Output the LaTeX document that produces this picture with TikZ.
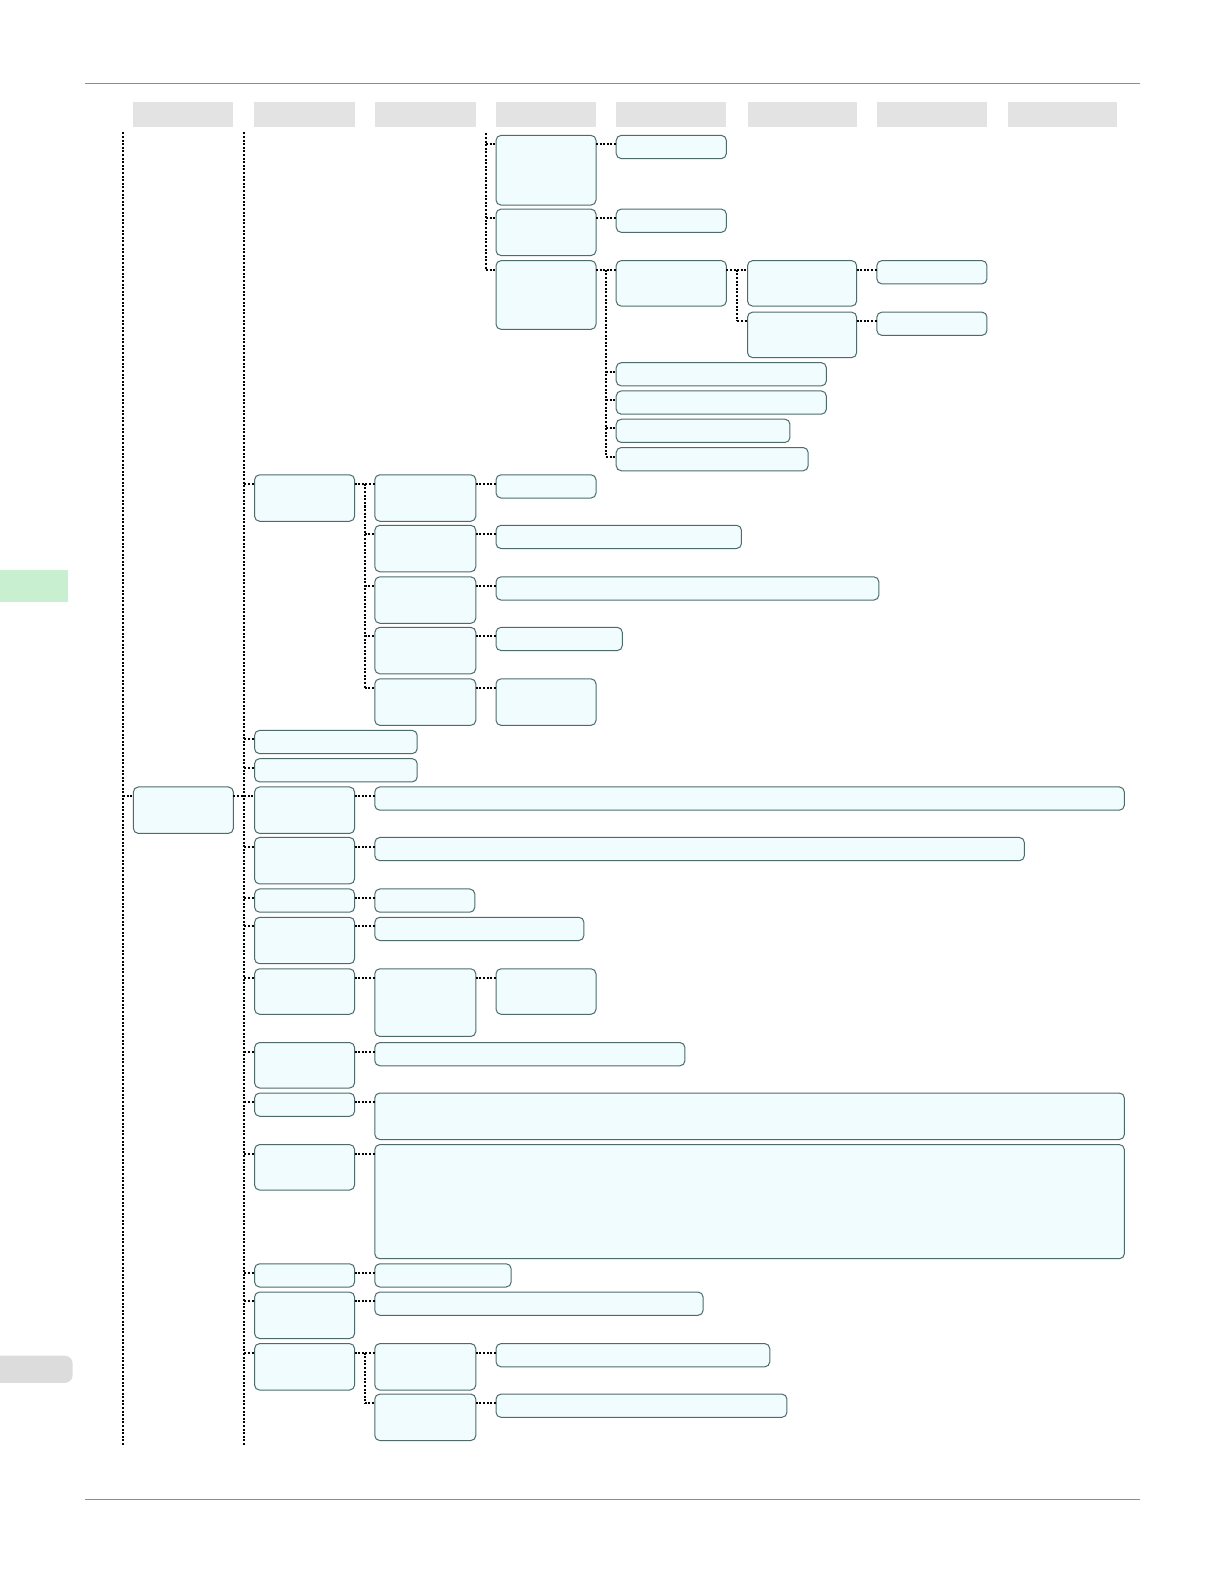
\documentclass[tikz,border=0pt]{standalone}
\usetikzlibrary{calc}
\definecolor{boxfill}{HTML}{F0FCFE}
\definecolor{boxdraw}{HTML}{4D6B6B}
\definecolor{hdr}{HTML}{E3E3E3}
\definecolor{tabgreen}{HTML}{C8EFD0}
\definecolor{tabgray}{HTML}{DCDCDC}
\definecolor{rulegray}{HTML}{8C8C8C}
\tikzset{
  bx/.style={draw=boxdraw, fill=boxfill, line width=0.5pt, rounded corners=2.5pt, inner sep=0pt, outer sep=0pt, anchor=north west},
  hd/.style={fill=hdr, draw=none, inner sep=0pt, outer sep=0pt, anchor=north west},
  conn/.style={black, line width=1pt, dash pattern=on 1pt off 0.8pt},
}
\newcommand{\bxx}[5]{\node[bx, minimum width={(#4-#2)*0.505pt}, minimum height={(#5-#3)*0.505pt}] (#1) at (#2,#3) {};}
\newcommand{\hdx}[3]{\node[hd, minimum width={(#3-#2)*0.505pt}, minimum height={25*0.505pt}] (#1) at (#2,101) {};}
\newcommand{\lk}[2]{\draw[conn] ($(#1.north east)+(0,9)$) -- ($(#2.north west)+(0,9)$);}
\newcommand{\stub}[1]{\draw[conn] ($(#1.north west)+(-10,9)$) -- ($(#1.north west)+(0,9)$);}
\newcommand{\trunk}[2]{\draw[conn] ($(#1.north west)+(-10,9)$) -- ($(#2.north west)+(-10,9)$);}
\begin{document}
\begin{tikzpicture}[x=0.505pt, y=-0.505pt]
\useasboundingbox (0,0) rectangle (1212,1568);
% page rules
\coordinate (rtl) at (84,83); \coordinate (rtr) at (1128,83);
\coordinate (rbl) at (84,1484); \coordinate (rbr) at (1128,1484);
\draw[rulegray, line width=0.5pt] (rtl) -- (rtr);
\draw[rulegray, line width=0.5pt] (rbl) -- (rbr);
% side tabs
\fill[tabgreen] (0,564) rectangle (67,596);
\fill[tabgray, rounded corners=4pt] (-10,1342) rectangle (72,1369);
% headers
\hdx{h1}{132}{231} \hdx{h2}{251}{351} \hdx{h3}{371}{471} \hdx{h4}{491}{590}
\hdx{h5}{610}{719} \hdx{h6}{740}{848} \hdx{h7}{868}{977} \hdx{h8}{998}{1106}
% ---- top section
\bxx{A1}{491}{134}{590}{203}
\bxx{A2}{491}{207}{590}{253}
\bxx{A3}{491}{258}{590}{326}
\bxx{B1}{610}{134}{719}{157}
\bxx{B2}{610}{207}{719}{230}
\bxx{B3}{610}{258}{719}{303}
\bxx{B4}{610}{359}{818}{382}
\bxx{B5}{610}{387}{818}{410}
\bxx{B6}{610}{415}{782}{438}
\bxx{B7}{610}{443}{800}{466}
\bxx{C1}{740}{258}{848}{303}
\bxx{C2}{740}{309}{848}{354}
\bxx{D1}{868}{258}{977}{281}
\bxx{D2}{868}{309}{977}{332}
\coordinate (t4) at (481,132);
\draw[conn] (t4) -- ($(A3.north west)+(-10,9)$);
\stub{A1} \stub{A2} \stub{A3}
\lk{A1}{B1} \lk{A2}{B2} \lk{A3}{B3}
\trunk{B3}{B7} \stub{B4} \stub{B5} \stub{B6} \stub{B7}
\lk{B3}{C1} \trunk{C1}{C2} \stub{C2}
\lk{C1}{D1} \lk{C2}{D2}
% ---- second section
\bxx{E}{252}{470}{351}{516}
\bxx{F1}{371}{470}{471}{516}
\bxx{F2}{371}{520}{471}{566}
\bxx{F3}{371}{571}{471}{617}
\bxx{F4}{371}{621}{471}{667}
\bxx{F5}{371}{672}{471}{718}
\bxx{G1}{491}{470}{590}{493}
\bxx{G2}{491}{520}{734}{543}
\bxx{G3}{491}{571}{870}{594}
\bxx{G4}{491}{621}{616}{644}
\bxx{G5}{491}{672}{590}{718}
\bxx{L1}{252}{723}{413}{746}
\bxx{L2}{252}{751}{413}{774}
\lk{E}{F1} \trunk{F1}{F5} \stub{F2} \stub{F3} \stub{F4} \stub{F5}
\lk{F1}{G1} \lk{F2}{G2} \lk{F3}{G3} \lk{F4}{G4} \lk{F5}{G5}
% ---- third section
\bxx{H}{132}{779}{231}{825}
\bxx{I1}{252}{779}{351}{825}
\bxx{I2}{252}{829}{351}{875}
\bxx{I3}{252}{880}{351}{903}
\bxx{I4}{252}{908}{351}{954}
\bxx{I5}{252}{959}{351}{1004}
\bxx{I6}{252}{1032}{351}{1077}
\bxx{I7}{252}{1082}{351}{1105}
\bxx{I8}{252}{1133}{351}{1178}
\bxx{I9}{252}{1251}{351}{1274}
\bxx{I10}{252}{1279}{351}{1325}
\bxx{I11}{252}{1330}{351}{1376}
\bxx{J1}{371}{779}{1113}{802}
\bxx{J2}{371}{829}{1014}{852}
\bxx{J3}{371}{880}{470}{903}
\bxx{J4}{371}{908}{578}{931}
\bxx{J5}{371}{959}{471}{1026}
\bxx{J6}{371}{1032}{678}{1055}
\bxx{J7}{371}{1082}{1113}{1128}
\bxx{J8}{371}{1133}{1113}{1246}
\bxx{J9}{371}{1251}{506}{1274}
\bxx{J10}{371}{1279}{696}{1302}
\bxx{J11}{371}{1330}{471}{1376}
\bxx{J12}{371}{1380}{471}{1426}
\bxx{K5}{491}{959}{590}{1004}
\bxx{K11}{491}{1330}{762}{1353}
\bxx{K12}{491}{1380}{779}{1403}
% off-page trunks
\coordinate (c0t) at (122,131); \coordinate (c0b) at (122,1430);
\coordinate (c1t) at (242,131); \coordinate (c1b) at (242,1430);
\draw[conn] (c0t) -- (c0b);
\draw[conn] (c1t) -- (c1b);
\stub{H}
\lk{H}{I1}
\stub{E} \stub{L1} \stub{L2}
\stub{I2} \stub{I3} \stub{I4} \stub{I5} \stub{I6} \stub{I7} \stub{I8} \stub{I9} \stub{I10} \stub{I11}
\lk{I1}{J1} \lk{I2}{J2} \lk{I3}{J3} \lk{I4}{J4} \lk{I5}{J5} \lk{I6}{J6}
\lk{I7}{J7} \lk{I8}{J8} \lk{I9}{J9} \lk{I10}{J10} \lk{I11}{J11}
\lk{J5}{K5}
\trunk{J11}{J12} \stub{J12}
\lk{J11}{K11} \lk{J12}{K12}
\end{tikzpicture}
\end{document}
